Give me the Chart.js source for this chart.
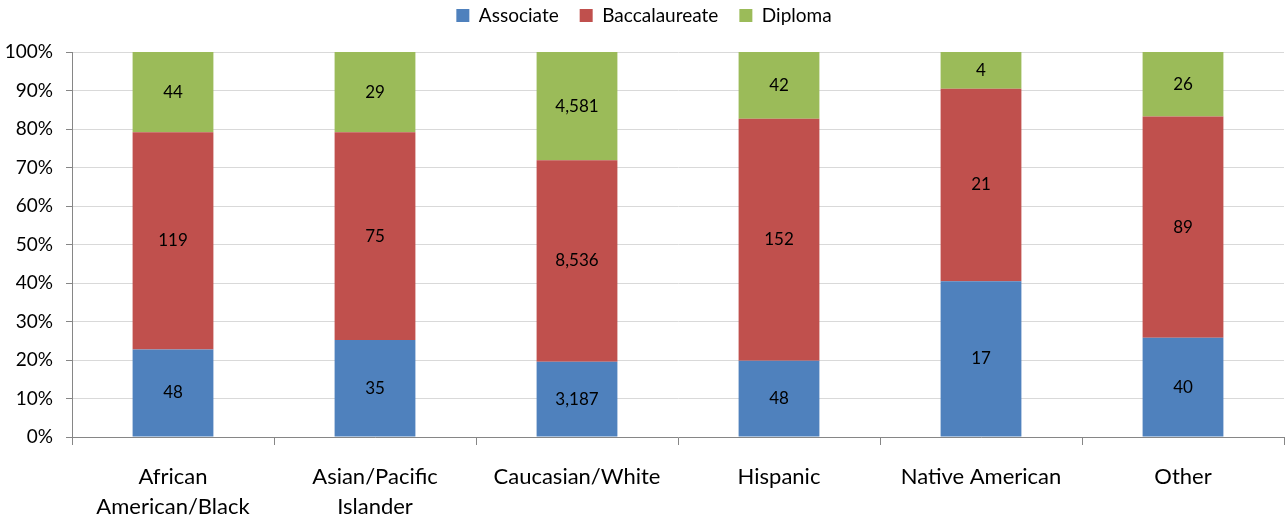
<!DOCTYPE html>
<html>
<head>
<meta charset="utf-8">
<script src="https://cdn.jsdelivr.net/npm/chart.js@4"></script>
<style>
  html, body { margin: 0; padding: 0; background: #fff; }
  #wrap { width: 1286px; height: 521px; position: relative; }
</style>
</head>
<body>
<div id="wrap"><canvas id="chart"></canvas></div>
<script>
// Categories and counts per degree type
const categories = [
  ['African', 'American/Black'],
  ['Asian/Pacific', 'Islander'],
  'Caucasian/White',
  'Hispanic',
  'Native American',
  'Other'
];
const associate = [48, 35, 3187, 48, 17, 40];
const baccalaureate = [119, 75, 8536, 152, 21, 89];
const diploma = [44, 29, 4581, 42, 4, 26];

const totals = associate.map((v, i) => v + baccalaureate[i] + diploma[i]);
const pct = arr => arr.map((v, i) => v / totals[i] * 100);

const FONT = 'Lato, "Open Sans", sans-serif';

// draws the raw count in the middle of each segment
const countLabels = {
  id: 'countLabels',
  afterDatasetsDraw(chart) {
    const ctx = chart.ctx;
    ctx.save();
    ctx.font = '17px ' + FONT;
    ctx.fillStyle = '#000';
    ctx.textAlign = 'center';
    ctx.textBaseline = 'middle';
    chart.data.datasets.forEach((ds, di) => {
      const meta = chart.getDatasetMeta(di);
      meta.data.forEach((bar, i) => {
        const p = bar.getProps(['x', 'y', 'base'], true);
        ctx.fillText(ds.counts[i].toLocaleString('en-US'), p.x, (p.y + p.base) / 2);
      });
    });
    ctx.restore();
  }
};

// legend takes a fixed band at the top
const legendGap = {
  id: 'legendGap',
  beforeInit(chart) {
    const fit = chart.legend.fit;
    chart.legend.fit = function () {
      fit.bind(chart.legend)();
      this.height = 67;
    };
  }
};

new Chart(document.getElementById('chart'), {
  type: 'bar',
  data: {
    labels: categories,
    datasets: [
      { label: 'Associate', data: pct(associate), counts: associate, backgroundColor: '#4F81BD' },
      { label: 'Baccalaureate', data: pct(baccalaureate), counts: baccalaureate, backgroundColor: '#C0504D' },
      { label: 'Diploma', data: pct(diploma), counts: diploma, backgroundColor: '#9BBB59' }
    ]
  },
  options: {
    responsive: true,
    maintainAspectRatio: false,
    animation: false,
    layout: { padding: { top: -15, right: 2, bottom: 0, left: 4 } },
    datasets: { bar: { barPercentage: 0.8, categoryPercentage: 0.5 } },
    plugins: {
      legend: {
        position: 'top',
        labels: {
          boxWidth: 13,
          boxHeight: 13,
          padding: 21,
          color: '#000',
          font: { family: FONT, size: 19 }
        }
      },
      tooltip: { enabled: false }
    },
    scales: {
      x: {
        stacked: true,
        afterFit(scale) { scale.height = 84; },
        grid: {
          offset: true,
          drawOnChartArea: false,
          drawTicks: true,
          tickLength: 8,
          color: '#868686'
        },
        border: { color: '#868686' },
        ticks: {
          color: '#000',
          padding: 17,
          maxRotation: 0,
          font: { family: FONT, size: 22, lineHeight: 1.36 }
        }
      },
      y: {
        stacked: true,
        min: 0,
        max: 100,
        afterFit(scale) { scale.width = 68; },
        grid: {
          color: '#D9D9D9',
          tickLength: 6,
          tickColor: '#868686'
        },
        border: { color: '#868686' },
        ticks: {
          stepSize: 10,
          color: '#000',
          padding: 13,
          font: { family: FONT, size: 19 },
          callback: v => v + '%'
        }
      }
    }
  },
  plugins: [countLabels, legendGap]
});
</script>
</body>
</html>
